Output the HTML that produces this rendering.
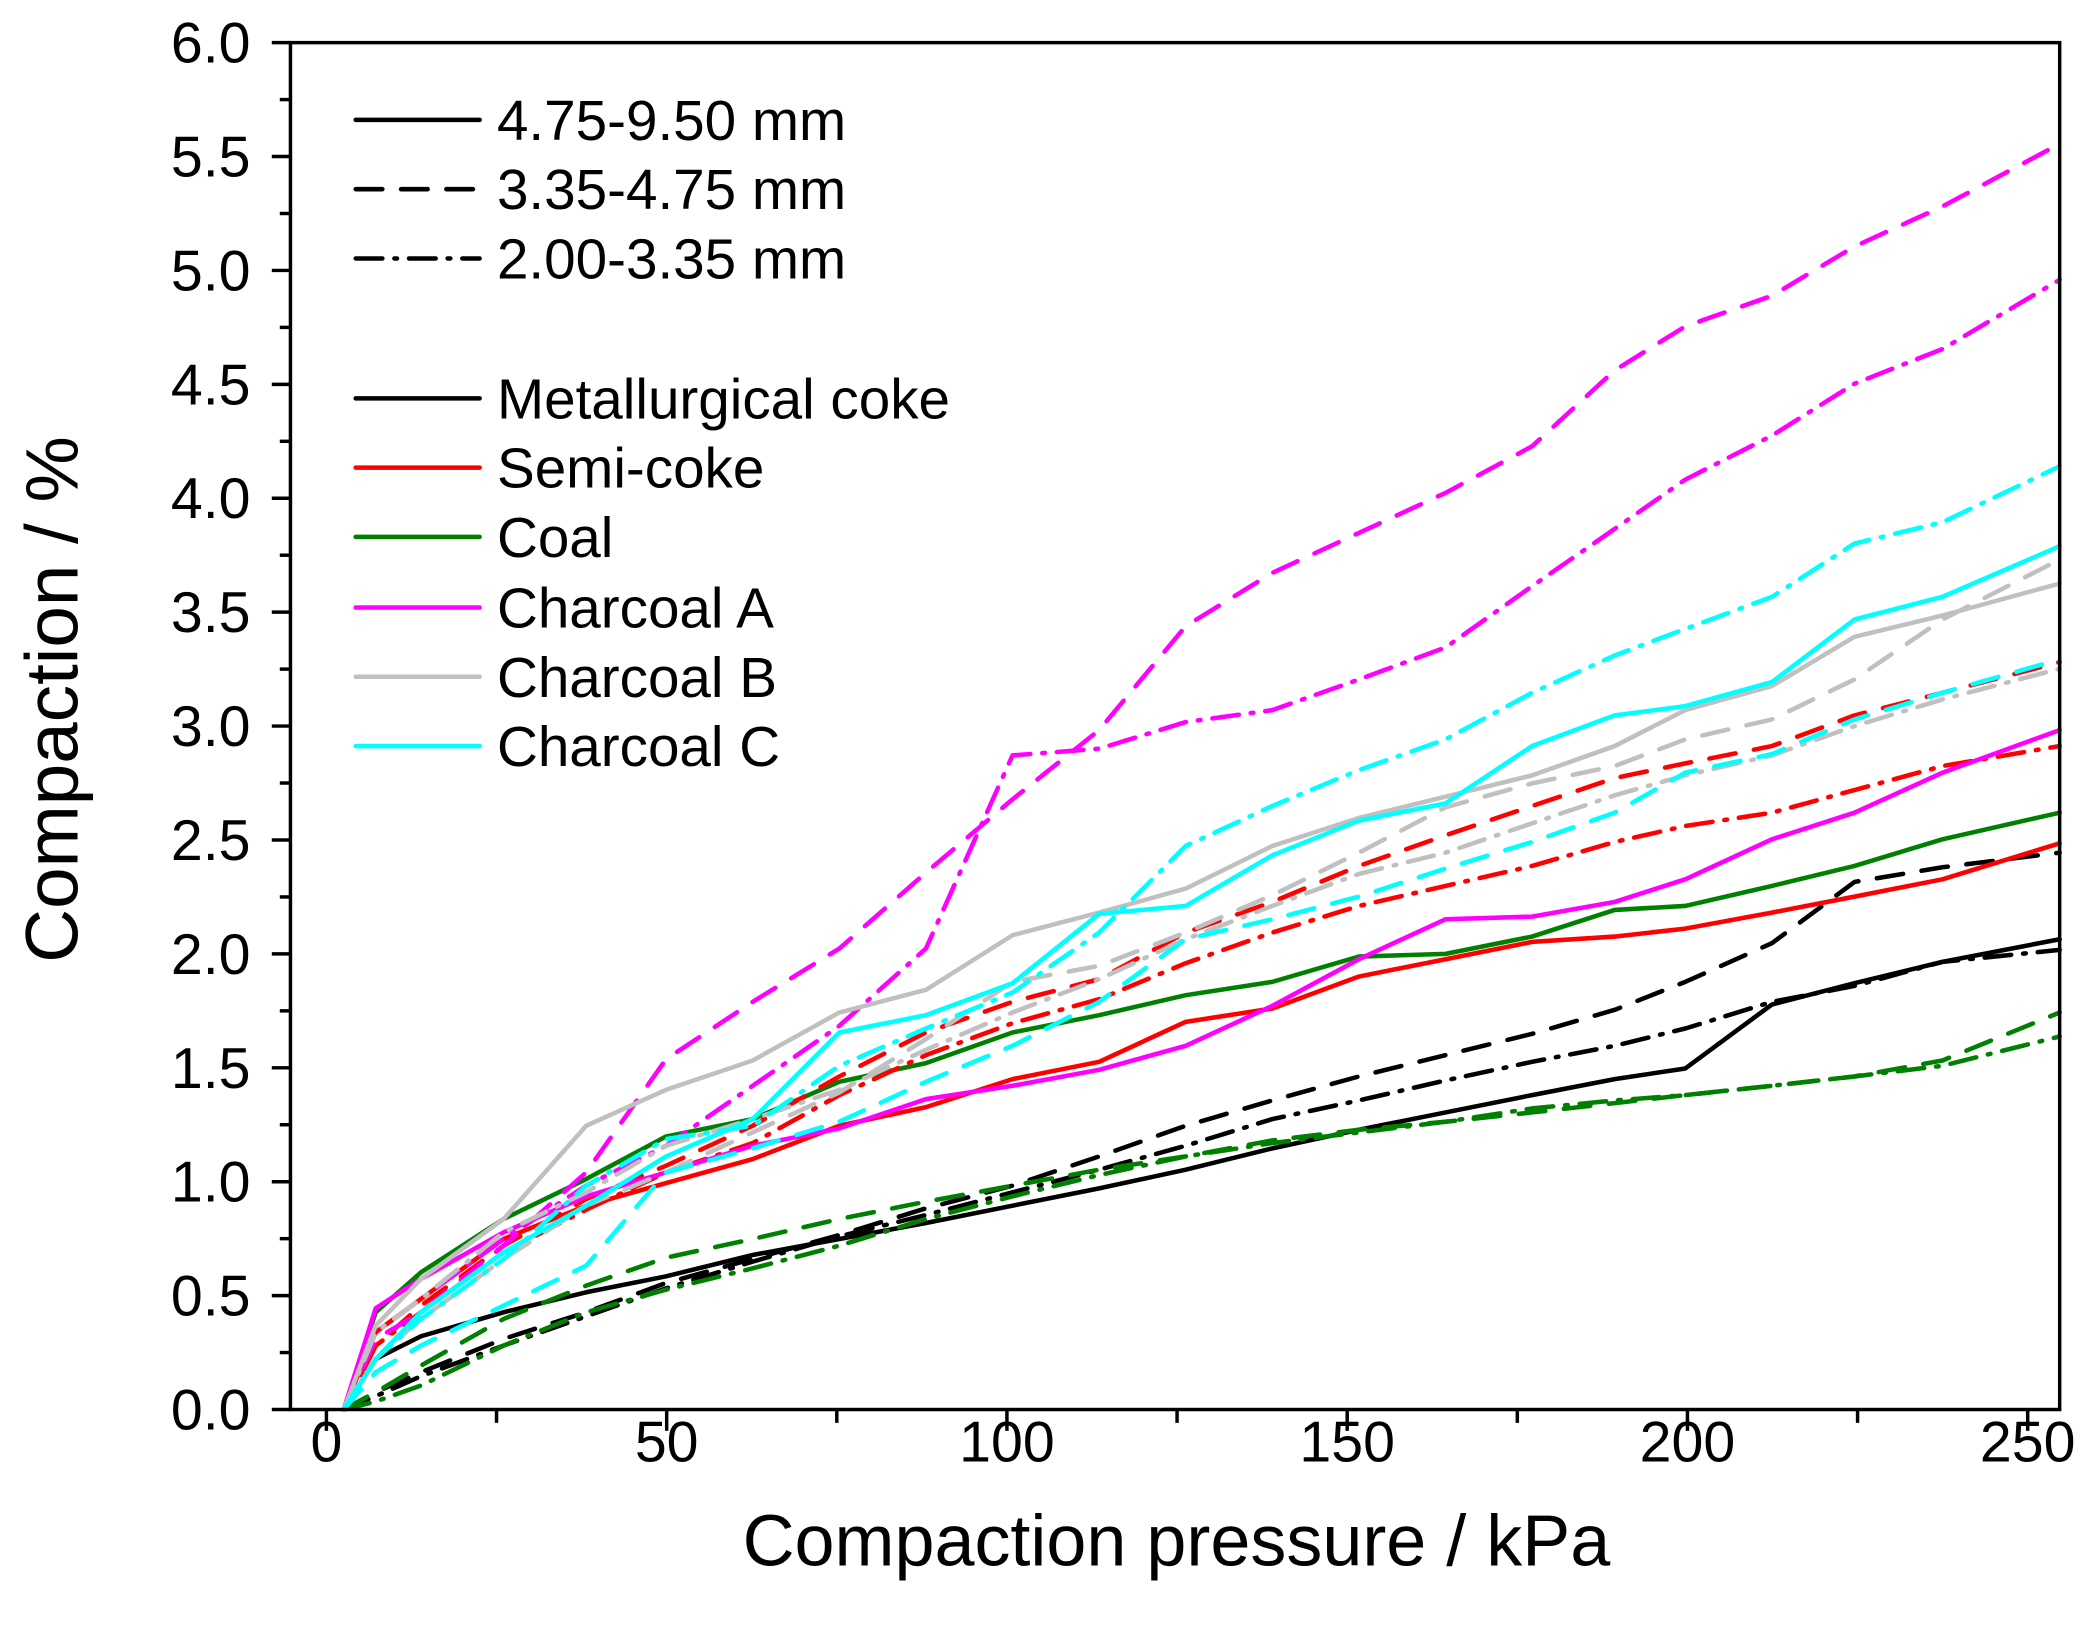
<!DOCTYPE html>
<html><head><meta charset="utf-8"><style>html,body{margin:0;padding:0;background:#fff}svg{display:block}</style></head>
<body>
<svg width="2089" height="1640" viewBox="0 0 1568 1231" xmlns="http://www.w3.org/2000/svg" font-family="Liberation Sans, sans-serif">
<rect width="1568" height="1231" fill="#fff"/>
<g id="series" fill="none" stroke-width="3.4" stroke-linecap="round" stroke-linejoin="round"></g>
<rect x="218" y="32" width="1328" height="1026" fill="none" stroke="#000" stroke-width="2.6"/>
<g id="ticks" stroke="#000" stroke-width="2.6"></g>
<g id="labels" font-size="43" fill="#000"></g>
<text x="883" y="1175" font-size="54" text-anchor="middle">Compaction pressure / kPa</text>
<text transform="translate(58,525) rotate(-90)" font-size="56" text-anchor="middle">Compaction / %</text>
<g id="legend" font-size="42.5"></g>
<script>
const NS="http://www.w3.org/2000/svg";
function el(t,a,p){const e=document.createElementNS(NS,t);for(const k in a)e.setAttribute(k,a[k]);p.appendChild(e);return e;}
const X=[258,282,316,378,440,500,565,630,695,760,825,890,955,1020,1085,1150,1212,1265,1330,1392,1458,1546];
const S={solid:"",dash:"20 14",dd:"20 9 2 9"};
const data=[
["#000","solid",[1058,1020,1003,985,970,958,942,930,918,905,892,878,862,848,835,822,810,802,754,738,722,705]],
["#000","dash",[1058,1045,1030,1005,985,963,945,927,907,890,868,845,826,808,792,776,758,737,708,662,651,640]],
["#000","dd",[1058,1048,1033,1010,988,967,947,928,912,895,878,860,840,826,811,797,785,772,752,740,722,713]],
["#008000","solid",[1058,985,955,915,885,853,840,812,798,775,762,747,737,718,716,703,683,680,665,650,630,610]],
["#008000","dash",[1058,1045,1025,990,965,944,930,915,902,890,878,868,856,848,842,835,828,822,815,808,796,760]],
["#008000","dd",[1058,1052,1040,1010,985,968,952,935,915,898,882,868,858,850,842,832,826,822,815,808,800,778]],
["#ff0000","solid",[1058,1000,975,930,905,888,870,845,831,810,797,767,757,733,720,707,703,697,685,673,660,633]],
["#ff0000","dash",[1058,1010,980,935,900,875,845,808,775,752,735,700,677,650,627,605,584,573,560,537,520,497]],
["#ff0000","dd",[1058,1010,985,940,908,880,858,822,792,768,750,723,700,680,665,650,632,620,610,593,575,560]],
["#ff00ff","solid",[1058,982,960,925,898,880,860,847,825,815,803,785,755,720,690,688,677,660,630,610,580,548]],
["#ff00ff","dash",[1058,1005,985,935,880,795,752,712,655,600,548,470,430,400,370,335,278,245,222,185,155,108]],
["#ff00ff","dd",[1058,1000,975,930,890,860,815,770,712,567,562,542,533,510,486,440,397,360,327,288,262,210]],
["#c0c0c0","solid",[1058,995,960,915,845,818,796,760,743,702,685,667,635,614,598,582,560,533,515,478,462,438]],
["#c0c0c0","dash",[1058,1020,990,945,905,880,850,820,780,737,725,700,672,640,606,588,575,555,540,510,465,420]],
["#c0c0c0","dd",[1058,1000,975,925,895,860,840,818,788,760,735,705,680,656,640,618,597,582,567,545,525,502]],
["#00ffff","solid",[1058,1020,985,940,905,868,840,775,762,738,686,680,642,616,603,560,537,530,512,465,448,410]],
["#00ffff","dash",[1058,1030,1010,980,950,880,862,842,812,785,752,705,690,673,652,632,610,580,566,540,520,495]],
["#00ffff","dd",[1058,1020,990,945,890,855,845,800,772,745,700,635,605,578,555,520,492,472,448,408,392,350]]
];
const g=document.getElementById("series");
data.forEach(([c,s,ys])=>{el("polyline",{points:ys.map((y,i)=>X[i]+","+y).join(" "),stroke:c,"stroke-dasharray":S[s]},g);});
const t=document.getElementById("ticks"),L=document.getElementById("labels");
for(let i=0;i<=24;i++){const y=1058-i*42.75;const maj=i%2==0;el("line",{x1:218,x2:maj?204:210,y1:y,y2:y},t);
 if(maj)el("text",{x:188,y:y+15,"text-anchor":"end"},L).textContent=(i/4).toFixed(1);}
for(let k=0;k<=250;k+=25){const x=245+5.108*k;const maj=k%50==0;el("line",{x1:x,x2:x,y1:1058,y2:maj?1074:1068},t);
 if(maj)el("text",{x:x,y:1097,"text-anchor":"middle"},L).textContent=k;}
const lg=document.getElementById("legend");
const items=[[90,"#000","solid","4.75-9.50 mm"],[142,"#000","dash","3.35-4.75 mm"],[194,"#000","dd","2.00-3.35 mm"],
[299,"#000","solid","Metallurgical coke"],[351,"#ff0000","solid","Semi-coke"],[403,"#008000","solid","Coal"],
[456,"#ff00ff","solid","Charcoal A"],[508,"#c0c0c0","solid","Charcoal B"],[560,"#00ffff","solid","Charcoal C"]];
items.forEach(([y,c,s,txt])=>{el("line",{x1:267,x2:360,y1:y,y2:y,stroke:c,"stroke-width":3.4,"stroke-linecap":"round","stroke-dasharray":S[s]},lg);
 el("text",{x:373,y:y+15},lg).textContent=txt;});
</script>
</svg>
</body></html>
